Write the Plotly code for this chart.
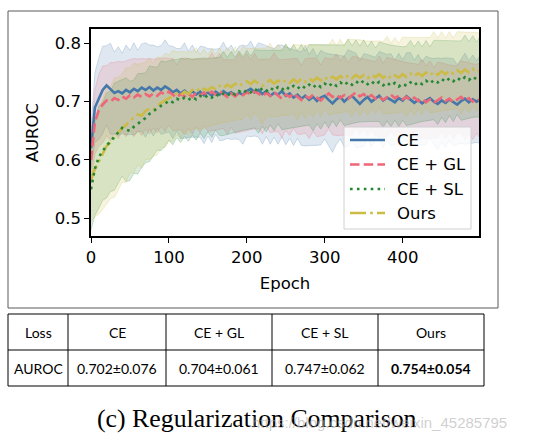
import plotly.graph_objects as go

# ---------------- data ----------------
EPOCHS = list(range(0, 500, 5)) + [498]

CE_MEAN = [
    0.62, 0.69, 0.705, 0.72, 0.728, 0.722, 0.715, 0.718, 0.714, 0.72,
    0.716, 0.722, 0.718, 0.724, 0.72, 0.725, 0.719, 0.724, 0.72, 0.726,
    0.722, 0.716, 0.72, 0.714, 0.719, 0.713, 0.718, 0.712, 0.717, 0.711,
    0.716, 0.71, 0.717, 0.712, 0.718, 0.713, 0.716, 0.71, 0.715, 0.712,
    0.718, 0.722, 0.716, 0.72, 0.713, 0.718, 0.71, 0.715, 0.712, 0.718,
    0.71, 0.714, 0.707, 0.712, 0.705, 0.71, 0.703, 0.708, 0.701, 0.707,
    0.71, 0.703, 0.697, 0.704, 0.708, 0.7, 0.706, 0.71, 0.702, 0.696,
    0.703, 0.708, 0.7, 0.705, 0.71, 0.702, 0.707, 0.703, 0.699, 0.706,
    0.702, 0.709, 0.704, 0.698, 0.703, 0.697, 0.702, 0.706, 0.7, 0.696,
    0.702, 0.698, 0.704, 0.699, 0.695, 0.701, 0.705, 0.699, 0.704, 0.7,
    0.703]
CE_STD = [
    0.035, 0.06, 0.07, 0.075, 0.068, 0.078, 0.07, 0.076, 0.069, 0.077,
    0.072, 0.079, 0.07, 0.075, 0.081, 0.072, 0.078, 0.07, 0.076, 0.08,
    0.074, 0.079, 0.071, 0.077, 0.082, 0.074, 0.079, 0.072, 0.078, 0.083,
    0.075, 0.08, 0.073, 0.079, 0.084, 0.076, 0.081, 0.074, 0.08, 0.085,
    0.077, 0.082, 0.075, 0.081, 0.086, 0.078, 0.083, 0.076, 0.085, 0.079,
    0.084, 0.077, 0.082, 0.075, 0.08, 0.086, 0.078, 0.083, 0.076, 0.081,
    0.074, 0.079, 0.084, 0.077, 0.072, 0.078, 0.083, 0.076, 0.081, 0.074,
    0.079, 0.073, 0.078, 0.071, 0.076, 0.081, 0.074, 0.079, 0.072, 0.077,
    0.07, 0.075, 0.08, 0.073, 0.078, 0.071, 0.076, 0.069, 0.074, 0.079,
    0.072, 0.077, 0.07, 0.075, 0.068, 0.073, 0.078, 0.071, 0.076, 0.07,
    0.074]

GL_MEAN = [
    0.60, 0.665, 0.685, 0.695, 0.702, 0.7, 0.706, 0.703, 0.709, 0.705,
    0.711, 0.707, 0.712, 0.708, 0.713, 0.709, 0.714, 0.71, 0.716, 0.712,
    0.717, 0.712, 0.707, 0.713, 0.709, 0.714, 0.708, 0.715, 0.71, 0.716,
    0.711, 0.717, 0.712, 0.718, 0.713, 0.708, 0.714, 0.709, 0.715, 0.711,
    0.716, 0.712, 0.718, 0.713, 0.709, 0.715, 0.71, 0.716, 0.711, 0.705,
    0.712, 0.708, 0.714, 0.709, 0.703, 0.71, 0.706, 0.712, 0.707, 0.702,
    0.709, 0.714, 0.708, 0.712, 0.706, 0.711, 0.705, 0.71, 0.716, 0.709,
    0.713, 0.707, 0.711, 0.705, 0.709, 0.703, 0.708, 0.712, 0.706, 0.71,
    0.704, 0.708, 0.702, 0.707, 0.701, 0.705, 0.699, 0.704, 0.698, 0.703,
    0.707, 0.701, 0.705, 0.699, 0.704, 0.708, 0.702, 0.706, 0.7, 0.705,
    0.703]
GL_STD = [
    0.04, 0.055, 0.062, 0.066, 0.06, 0.067, 0.061, 0.066, 0.059, 0.065,
    0.06, 0.067, 0.061, 0.066, 0.06, 0.065, 0.059, 0.064, 0.058, 0.063,
    0.057, 0.062, 0.056, 0.061, 0.066, 0.06, 0.064, 0.058, 0.063, 0.057,
    0.062, 0.067, 0.061, 0.065, 0.059, 0.064, 0.058, 0.063, 0.068, 0.062,
    0.066, 0.06, 0.065, 0.059, 0.064, 0.058, 0.063, 0.068, 0.062, 0.067,
    0.061, 0.066, 0.06, 0.065, 0.059, 0.064, 0.069, 0.063, 0.067, 0.061,
    0.066, 0.06, 0.065, 0.07, 0.064, 0.068, 0.062, 0.067, 0.061, 0.066,
    0.06, 0.065, 0.059, 0.064, 0.069, 0.063, 0.068, 0.062, 0.066, 0.06,
    0.065, 0.059, 0.064, 0.058, 0.063, 0.068, 0.062, 0.066, 0.06, 0.065,
    0.059, 0.064, 0.058, 0.063, 0.057, 0.062, 0.067, 0.061, 0.065, 0.059,
    0.063]

SL_MEAN = [
    0.55, 0.585, 0.605, 0.615, 0.625, 0.632, 0.64, 0.648, 0.655, 0.652,
    0.65, 0.657, 0.662, 0.668, 0.672, 0.679, 0.684, 0.688, 0.693, 0.696,
    0.702, 0.699, 0.705, 0.702, 0.707, 0.703, 0.708, 0.704, 0.71, 0.706,
    0.711, 0.707, 0.713, 0.709, 0.714, 0.71, 0.716, 0.712, 0.718, 0.714,
    0.72, 0.716, 0.722, 0.717, 0.723, 0.718, 0.724, 0.719, 0.725, 0.72,
    0.726, 0.721, 0.727, 0.722, 0.728, 0.723, 0.729, 0.724, 0.73, 0.725,
    0.731, 0.726, 0.732, 0.727, 0.733, 0.728, 0.734, 0.729, 0.735, 0.73,
    0.736, 0.73, 0.735, 0.729, 0.734, 0.728, 0.733, 0.727, 0.732, 0.726,
    0.731, 0.727, 0.733, 0.728, 0.734, 0.73, 0.736, 0.731, 0.737, 0.733,
    0.739, 0.734, 0.74, 0.735, 0.741, 0.736, 0.742, 0.737, 0.743, 0.738,
    0.741]
SL_STD = [
    0.07, 0.08, 0.088, 0.084, 0.09, 0.086, 0.092, 0.087, 0.083, 0.089,
    0.085, 0.08, 0.086, 0.081, 0.077, 0.082, 0.076, 0.071, 0.077, 0.072,
    0.068, 0.073, 0.067, 0.072, 0.066, 0.071, 0.065, 0.07, 0.064, 0.069,
    0.063, 0.068, 0.062, 0.067, 0.072, 0.066, 0.07, 0.064, 0.069, 0.063,
    0.068, 0.062, 0.067, 0.071, 0.065, 0.07, 0.064, 0.069, 0.063, 0.068,
    0.073, 0.067, 0.071, 0.065, 0.07, 0.064, 0.069, 0.074, 0.068, 0.072,
    0.066, 0.071, 0.065, 0.07, 0.064, 0.069, 0.073, 0.067, 0.071, 0.065,
    0.07, 0.064, 0.069, 0.063, 0.068, 0.072, 0.066, 0.07, 0.064, 0.069,
    0.063, 0.068, 0.072, 0.066, 0.07, 0.064, 0.069, 0.063, 0.068, 0.072,
    0.066, 0.07, 0.064, 0.069, 0.063, 0.068, 0.072, 0.066, 0.07, 0.064,
    0.068]

OURS_MEAN = [
    0.565, 0.585, 0.597, 0.61, 0.624, 0.63, 0.638, 0.645, 0.655, 0.66,
    0.668, 0.672, 0.678, 0.676, 0.684, 0.688, 0.686, 0.693, 0.698, 0.702,
    0.706, 0.71, 0.714, 0.711, 0.717, 0.713, 0.72, 0.723, 0.717, 0.722,
    0.719, 0.725, 0.721, 0.727, 0.723, 0.729, 0.725, 0.731, 0.726, 0.732,
    0.735, 0.73, 0.736, 0.731, 0.727, 0.733, 0.737, 0.731, 0.736, 0.732,
    0.737, 0.732, 0.738, 0.733, 0.739, 0.734, 0.74, 0.735, 0.741, 0.736,
    0.742, 0.737, 0.743, 0.738, 0.744, 0.739, 0.745, 0.74, 0.746, 0.741,
    0.745, 0.74, 0.746, 0.742, 0.747, 0.741, 0.746, 0.74, 0.745, 0.741,
    0.747, 0.742, 0.748, 0.743, 0.749, 0.744, 0.75, 0.745, 0.751, 0.746,
    0.752, 0.747, 0.753, 0.748, 0.754, 0.749, 0.755, 0.75, 0.756, 0.751,
    0.753]
OURS_STD = [
    0.07, 0.082, 0.09, 0.095, 0.1, 0.096, 0.102, 0.097, 0.093, 0.098,
    0.09, 0.094, 0.086, 0.09, 0.083, 0.087, 0.08, 0.084, 0.077, 0.081,
    0.074, 0.078, 0.071, 0.075, 0.068, 0.072, 0.066, 0.07, 0.064, 0.068,
    0.062, 0.066, 0.06, 0.065, 0.059, 0.064, 0.058, 0.063, 0.057, 0.062,
    0.056, 0.061, 0.055, 0.06, 0.065, 0.059, 0.063, 0.057, 0.062, 0.056,
    0.061, 0.055, 0.06, 0.064, 0.058, 0.063, 0.057, 0.062, 0.056, 0.061,
    0.055, 0.06, 0.064, 0.058, 0.063, 0.057, 0.062, 0.066, 0.06, 0.065,
    0.059, 0.064, 0.058, 0.063, 0.057, 0.062, 0.066, 0.06, 0.065, 0.059,
    0.064, 0.068, 0.062, 0.067, 0.061, 0.066, 0.06, 0.065, 0.069, 0.063,
    0.068, 0.062, 0.067, 0.061, 0.066, 0.07, 0.064, 0.069, 0.063, 0.068,
    0.065]

SERIES_NAMES = ["CE", "CE + GL", "CE + SL", "Ours"]
TABLE_HEADER = ["Loss", "CE", "CE + GL", "CE + SL", "Ours"]
TABLE_ROW = ["AUROC", "0.702±0.076", "0.704±0.061", "0.747±0.062", "0.754±0.054"]
X_TICKS = [0, 100, 200, 300, 400]
Y_TICKS = [0.5, 0.6, 0.7, 0.8]
CAPTION = "(c) Regularization Comparison"
WATERMARK = "https://blog.csdn.net/weixin_45285795"

# ---------------- styling ----------------
W, H = 537, 441
def fx(p):
    return p / W
def fy(p):
    return 1 - p / H

RGB = [(68, 119, 170), (238, 102, 119), (34, 136, 51), (204, 187, 68)]
DASHES = ["solid", "9.5px,4.2px", "2.6px,4.3px", "16px,4.2px,2.6px,4.2px"]
LW = 2.6
FONT = "DejaVu Sans"
FS = 16.5
BAND_ALPHA = 0.17

means = [CE_MEAN, GL_MEAN, SL_MEAN, OURS_MEAN]
stds = [CE_STD, GL_STD, SL_STD, OURS_STD]

fig = go.Figure()

for (r, g, b), m, s in zip(RGB, means, stds):
    lo = [a - d for a, d in zip(m, s)]
    hi = [a + d for a, d in zip(m, s)]
    fig.add_trace(go.Scatter(x=EPOCHS, y=lo, mode="lines", showlegend=False,
                             line=dict(color=f"rgba({r},{g},{b},0.22)", width=1),
                             hoverinfo="skip"))
    fig.add_trace(go.Scatter(x=EPOCHS, y=hi, mode="lines", showlegend=False,
                             fill="tonexty", fillcolor=f"rgba({r},{g},{b},{BAND_ALPHA})",
                             line=dict(color=f"rgba({r},{g},{b},0.22)", width=1),
                             hoverinfo="skip"))

for i in [0, 1, 3, 2]:
    r, g, b = RGB[i]
    fig.add_trace(go.Scatter(x=EPOCHS, y=means[i], mode="lines", name=SERIES_NAMES[i],
                             showlegend=False,
                             line=dict(color=f"rgb({r},{g},{b})", width=LW, dash=DASHES[i])))

shapes = []
annotations = []

# outer frame
shapes.append(dict(type="rect", xref="paper", yref="paper",
                   x0=fx(8), x1=fx(498), y0=fy(308), y1=fy(11),
                   line=dict(color="#5a5a5a", width=1), layer="below"))

# legend (manual)
shapes.append(dict(type="rect", xref="paper", yref="paper",
                   x0=fx(344), x1=fx(471), y0=fy(229), y1=fy(127),
                   fillcolor="rgba(255,255,255,0.8)",
                   line=dict(color="#d0d0d0", width=1), layer="above"))
leg_y = [140, 164.5, 189, 213]
for i, name in enumerate(SERIES_NAMES):
    r, g, b = RGB[i]
    shapes.append(dict(type="line", xref="paper", yref="paper",
                       x0=fx(350), x1=fx(385), y0=fy(leg_y[i]), y1=fy(leg_y[i]),
                       line=dict(color=f"rgb({r},{g},{b})", width=LW, dash=DASHES[i]),
                       layer="above"))
    annotations.append(dict(xref="paper", yref="paper", x=fx(395), y=fy(leg_y[i]),
                            text=name, showarrow=False, xanchor="left", yanchor="middle",
                            font=dict(family=FONT, size=FS, color="black")))

# table
col_x = [8, 68, 166, 272, 378, 484]
row_y = [314, 350, 386]
shapes.append(dict(type="rect", xref="paper", yref="paper",
                   x0=fx(col_x[0]), x1=fx(col_x[-1]), y0=fy(row_y[-1]), y1=fy(row_y[0]),
                   line=dict(color="black", width=1)))
shapes.append(dict(type="line", xref="paper", yref="paper",
                   x0=fx(col_x[0]), x1=fx(col_x[-1]), y0=fy(row_y[1]), y1=fy(row_y[1]),
                   line=dict(color="black", width=1)))
for cx in col_x[1:-1]:
    shapes.append(dict(type="line", xref="paper", yref="paper",
                       x0=fx(cx), x1=fx(cx), y0=fy(row_y[-1]), y1=fy(row_y[0]),
                       line=dict(color="black", width=1)))
for j in range(5):
    cx = (col_x[j] + col_x[j + 1]) / 2
    for k, row in enumerate([TABLE_HEADER, TABLE_ROW]):
        cy = (row_y[k] + row_y[k + 1]) / 2
        txt = row[j]
        if k == 1 and j == 4:
            txt = f"<b>{txt}</b>"
        annotations.append(dict(xref="paper", yref="paper", x=fx(cx), y=fy(cy),
                                text=txt, showarrow=False, xanchor="center", yanchor="middle",
                                font=dict(family="Lato", size=14, color="black")))

# caption + watermark
annotations.append(dict(xref="paper", yref="paper", x=fx(257), y=fy(418),
                        text=CAPTION, showarrow=False, xanchor="center", yanchor="middle",
                        font=dict(family="Liberation Serif", size=25.8, color="black")))
annotations.append(dict(xref="paper", yref="paper", x=fx(250), y=fy(422),
                        text=WATERMARK, showarrow=False, xanchor="left", yanchor="middle",
                        font=dict(family="Liberation Sans", size=15, color="rgba(175,175,175,0.6)")))

axis_common = dict(showline=True, linecolor="black", linewidth=1.5, mirror=True,
                   ticks="outside", ticklen=5, tickwidth=1.2, tickcolor="black",
                   showgrid=False, zeroline=False, automargin=False,
                   tickfont=dict(family=FONT, size=FS, color="black"))

fig.update_layout(
    width=W, height=H,
    margin=dict(l=0, r=0, t=0, b=0),
    paper_bgcolor="white", plot_bgcolor="white",
    showlegend=False,
    xaxis=dict(domain=[fx(91), fx(479)], range=[0, 498], tickvals=X_TICKS,
               title=dict(text="Epoch", font=dict(family=FONT, size=FS, color="black"), standoff=12),
               **axis_common),
    yaxis=dict(domain=[fy(236), fy(29.3)], range=[0.4697, 0.824], tickvals=Y_TICKS,
               tickformat=".1f",
               title=dict(text="AUROC", font=dict(family=FONT, size=FS, color="black"), standoff=12),
               **axis_common),
    shapes=shapes,
    annotations=annotations,
)

fig.write_html("out.html", config={"displayModeBar": False},
               post_script="document.body.style.margin='0px';")
